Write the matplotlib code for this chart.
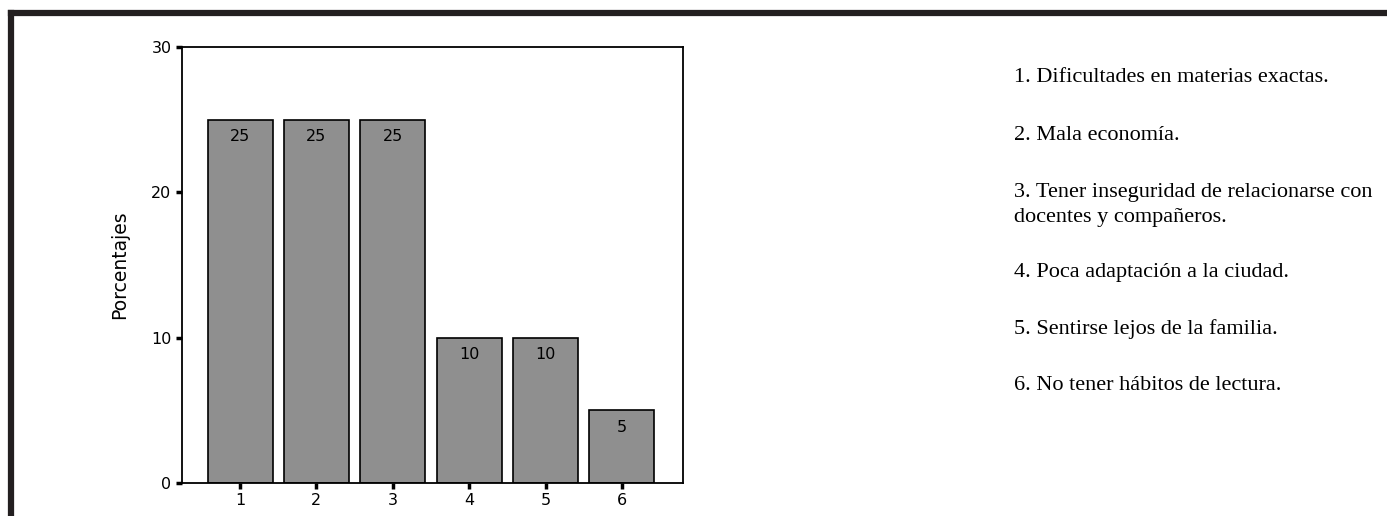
import matplotlib.pyplot as plt
from matplotlib.lines import Line2D

categories = [1, 2, 3, 4, 5, 6]
porcentajes = [25, 25, 25, 10, 10, 5]
legend_lines = [
    "1. Dificultades en materias exactas.",
    "2. Mala economía.",
    "3. Tener inseguridad de relacionarse con\ndocentes y compañeros.",
    "4. Poca adaptación a la ciudad.",
    "5. Sentirse lejos de la familia.",
    "6. No tener hábitos de lectura.",
]
legend_y = [78, 135, 205, 272, 329, 385]  # pixel rows of text centres

W, H = 1387, 516
fig = plt.figure(figsize=(W / 100, H / 100), dpi=100)

# thick frame on top and left
fig.add_artist(Line2D([11 / W, 1], [1 - 13 / H, 1 - 13 / H], color="#231f20", lw=4.5))
fig.add_artist(Line2D([11 / W, 11 / W], [0, 1 - 13 / H], color="#231f20", lw=4.5))

ax = fig.add_axes([182 / W, 1 - 483 / H, (683 - 182) / W, (483 - 47) / H])
bars = ax.bar(categories, porcentajes, width=0.85, color="#8f8f8f",
              edgecolor="black", linewidth=1.2)
for x, v in zip(categories, porcentajes):
    ax.annotate(str(v), (x, v), xytext=(0, -7), textcoords="offset points",
                ha="center", va="top", fontsize=11.5, family="DejaVu Sans")

ax.set_xlim(0.24, 6.8)
ax.set_ylim(0, 30)
ax.set_yticks([0, 10, 20, 30])
ax.set_xticks(categories)
ax.tick_params(direction="out", length=4.5, width=2.5, labelsize=11.5, pad=3)
for lab in ax.get_xticklabels() + ax.get_yticklabels():
    lab.set_family("DejaVu Sans")
for s in ax.spines.values():
    s.set_linewidth(1.3)
ax.set_ylabel("Porcentajes", fontsize=13.5, family="DejaVu Sans", labelpad=16)

for txt, y in zip(legend_lines, legend_y):
    fig.text(1014 / W, 1 - y / H, txt, ha="left", va="center",
             fontsize=16, family="Liberation Serif", linespacing=1.4)

fig.savefig("out.png", dpi=100)
